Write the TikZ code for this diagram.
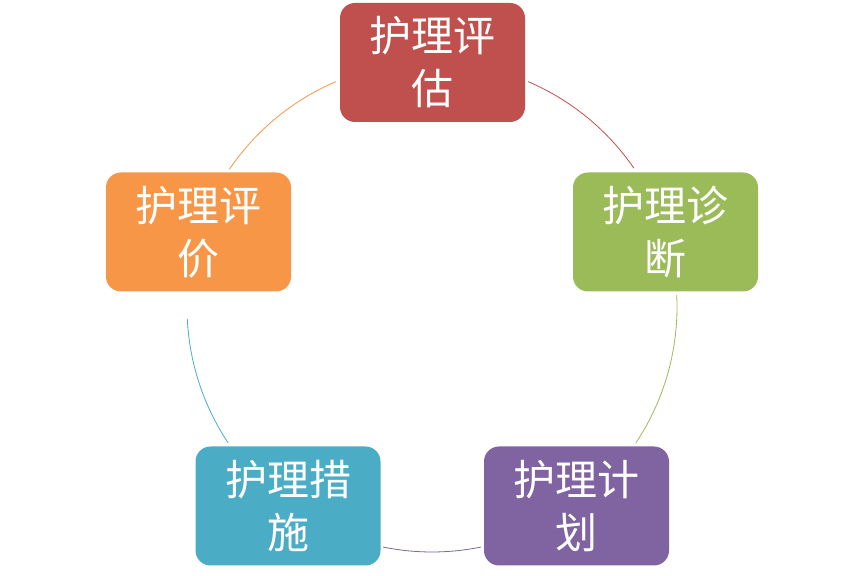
\documentclass[tikz,border=0pt]{standalone}
\usepackage{fontspec}
\newfontfamily\cjk{Noto Sans CJK SC}
\usetikzlibrary{calc}
\definecolor{cred}{HTML}{C0504D}
\definecolor{cgreen}{HTML}{9BBB59}
\definecolor{cpurple}{HTML}{8064A2}
\definecolor{cteal}{HTML}{4BACC6}
\definecolor{corange}{HTML}{F79646}
\tikzset{
  stagebox/.style={rounded corners=15bp, minimum width=185bp, minimum height=119bp,
    inner sep=0pt, align=center, text=white,
    font=\cjk\fontsize{42bp}{53bp}\selectfont},
  link/.style={line width=0.8bp}
}
\begin{document}
\begin{tikzpicture}[x=1bp,y=1bp]
\useasboundingbox (0,0) rectangle (864,576);
\coordinate (O) at (432,269);
\def\R{245}
\node[stagebox, fill=cred]    (n1) at (432.5,513.5) {护理评\\估};
\node[stagebox, fill=cgreen]  (n2) at (665.5,344) {护理诊\\断};
\node[stagebox, fill=cpurple] (n3) at (576.5,70) {护理计\\划};
\node[stagebox, fill=cteal]   (n4) at (288,70) {护理措\\施};
\node[stagebox, fill=corange] (n5) at (198.5,344) {护理评\\价};
\coordinate (a1) at ($(O)+(66.9:\R)$);
\coordinate (a2) at ($(O)+(2.8:\R)$);
\coordinate (a3) at ($(O)+(-78.5:\R)$);
\coordinate (a4) at ($(O)+(-146.3:\R)$);
\coordinate (a5) at ($(O)+(145.8:\R)$);
\draw[link, cred]    (a1) arc[start angle=66.9, end angle=34.5, radius=\R];
\draw[link, cgreen]  (a2) arc[start angle=2.8, end angle=-33.7, radius=\R];
\draw[link, cpurple] (a3) arc[start angle=-78.5, end angle=-101.5, radius=\R];
\draw[link, cteal]   (a4) arc[start angle=-146.3, end angle=-177.2, radius=\R];
\draw[link, corange] (a5) arc[start angle=145.8, end angle=113.1, radius=\R];
\end{tikzpicture}
\end{document}
